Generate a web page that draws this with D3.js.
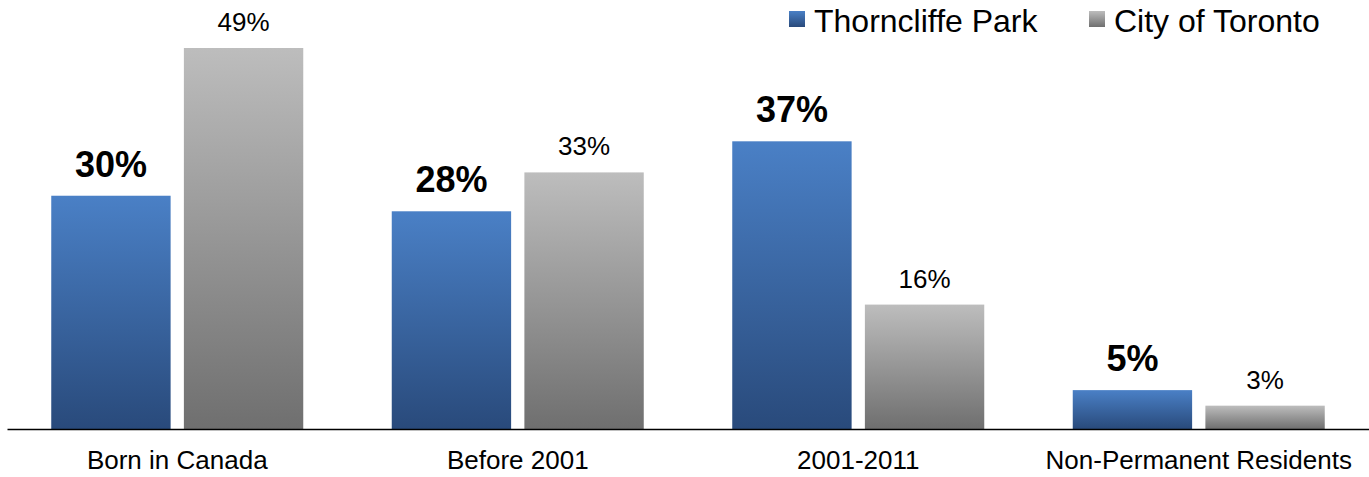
<!DOCTYPE html>
<html>
<head>
<meta charset="utf-8">
<script src="https://cdn.jsdelivr.net/npm/d3@7"></script>
<style>
  body { margin: 0; background: #fff; }
  svg { display: block; font-family: "Liberation Sans", Arial, sans-serif; }
  svg text { font-family: "Liberation Sans", Arial, sans-serif; }
</style>
</head>
<body>
<div id="chart"></div>
<script>
// data
const categories = ["Born in Canada", "Before 2001", "2001-2011", "Non-Permanent Residents"];
const seriesNames = ["Thorncliffe Park", "City of Toronto"];
const thorncliffe = [30, 28, 37, 5];
const toronto = [49, 33, 16, 3];

const width = 1369, height = 477,
  margin = { top: 48, bottom: 48, left: 7, right: 0 };

const svg = d3.select("#chart")
  .append("svg")
  .attr("width", width)
  .attr("height", height);

// gradients per series
const defs = svg.append("defs");
const grads = [
  { id: "gBlue", top: "#4a80c6", bottom: "#294a7b" },
  { id: "gGray", top: "#bdbdbd", bottom: "#6f6f6f" }
];
grads.forEach(g => {
  const lg = defs.append("linearGradient")
    .attr("id", g.id)
    .attr("x1", 0).attr("y1", 0).attr("x2", 0).attr("y2", 1);
  lg.append("stop").attr("offset", "0%").attr("stop-color", g.top);
  lg.append("stop").attr("offset", "100%").attr("stop-color", g.bottom);
});

const x = d3.scaleBand()
  .domain(categories)
  .range([margin.left, width - margin.right])
  .paddingInner(0)
  .paddingOuter(0);

const xInner = d3.scaleBand()
  .domain(seriesNames)
  .range([0, 252])
  .paddingInner(0.1);

const baseline = height - margin.bottom;
const y = d3.scaleLinear()
  .domain([0, 49])
  .range([baseline, margin.top]);

const rows = categories.map((c, i) => ({
  category: c,
  values: [
    { series: seriesNames[0], value: thorncliffe[i], fill: "url(#gBlue)", bold: true },
    { series: seriesNames[1], value: toronto[i], fill: "url(#gGray)", bold: false }
  ]
}));

const groups = svg.append("g")
  .selectAll("g")
  .data(rows)
  .join("g")
  .attr("transform", d => `translate(${x(d.category) + (x.bandwidth() - 252) / 2},0)`);

groups.selectAll("rect")
  .data(d => d.values)
  .join("rect")
  .attr("x", d => xInner(d.series))
  .attr("y", d => y(d.value))
  .attr("width", xInner.bandwidth())
  .attr("height", d => y(0) - y(d.value))
  .attr("fill", d => d.fill);

groups.selectAll("text")
  .data(d => d.values)
  .join("text")
  .attr("x", d => xInner(d.series) + xInner.bandwidth() / 2)
  .attr("y", d => y(d.value) - (d.bold ? 19 : 17))
  .attr("text-anchor", "middle")
  .attr("font-size", d => d.bold ? 36 : 26)
  .attr("font-weight", d => d.bold ? "bold" : "normal")
  .attr("fill", "#000")
  .text(d => d.value + "%");

// x axis
const xAxis = svg.append("g")
  .attr("transform", `translate(0,${baseline})`)
  .call(d3.axisBottom(x).tickSize(0).tickPadding(22));
xAxis.select(".domain").attr("stroke", "#000").attr("stroke-width", 1.5);
xAxis.selectAll("text")
  .attr("font-size", 26)
  .attr("fill", "#000");

// legend
const legend = svg.append("g");
const legendItems = [
  { name: seriesNames[0], fill: "url(#gBlue)", x: 789 },
  { name: seriesNames[1], fill: "url(#gGray)", x: 1089 }
];
legendItems.forEach(l => {
  legend.append("rect")
    .attr("x", l.x).attr("y", 11)
    .attr("width", 16).attr("height", 16)
    .attr("fill", l.fill);
  legend.append("text")
    .attr("x", l.x + 25).attr("y", 32)
    .attr("font-size", 32)
    .attr("fill", "#000")
    .text(l.name);
});
</script>
</body>
</html>
